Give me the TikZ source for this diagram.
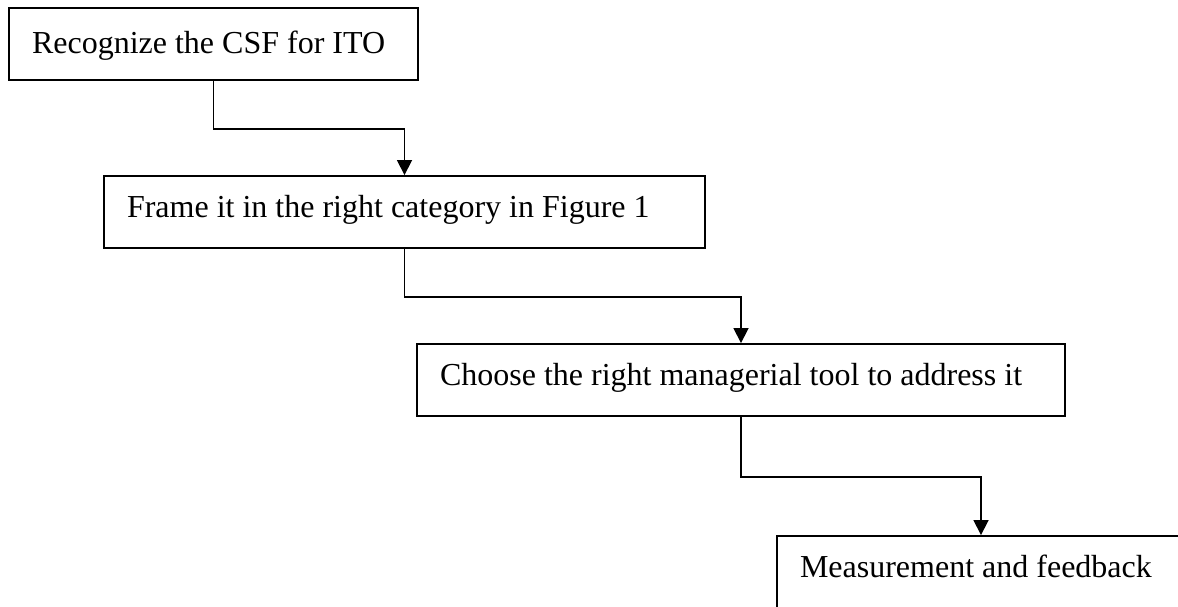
\documentclass[tikz,border=0pt]{standalone}
\usepackage{fontspec}
\setmainfont{Liberation Serif}
\usetikzlibrary{arrows.meta}
\tikzset{
  stepbox/.style={draw=black, line width=1.9pt, rectangle, inner ysep=0pt, inner xsep=23pt,
    minimum height=72pt, font=\fontsize{32}{38}\selectfont,
    text height=22pt, text depth=12pt},
  conn/.style={draw=black, line width=1.7pt, -{Triangle[width=15pt,length=15pt]}}
}
\begin{document}
\begin{tikzpicture}[x=1pt,y=-1pt]
\useasboundingbox (0,0) rectangle (1178,606);
\clip (0,0) rectangle (1178,606);
\node[stepbox, text height=26pt, text depth=8pt] (b1) at (213.5,44) {\makebox[363pt][l]{Recognize the CSF for ITO}};
\node[stepbox] (b2) at (404.5,212) {\makebox[555pt][l]{Frame it in the right category in Figure 1}};
\node[stepbox] (b3) at (741,380) {\makebox[602pt][l]{Choose the right managerial tool to address it}};
\node[stepbox] (b4) at (981,572) {\makebox[362pt][l]{Measurement and feedback}};
\draw[conn] (b1.south) -- ++(0,48) -| (b2.north);
\draw[conn] (b2.south) -- ++(0,48) -| (b3.north);
\draw[conn] (b3.south) -- ++(0,60) -| (b4.north);
\end{tikzpicture}
\end{document}
